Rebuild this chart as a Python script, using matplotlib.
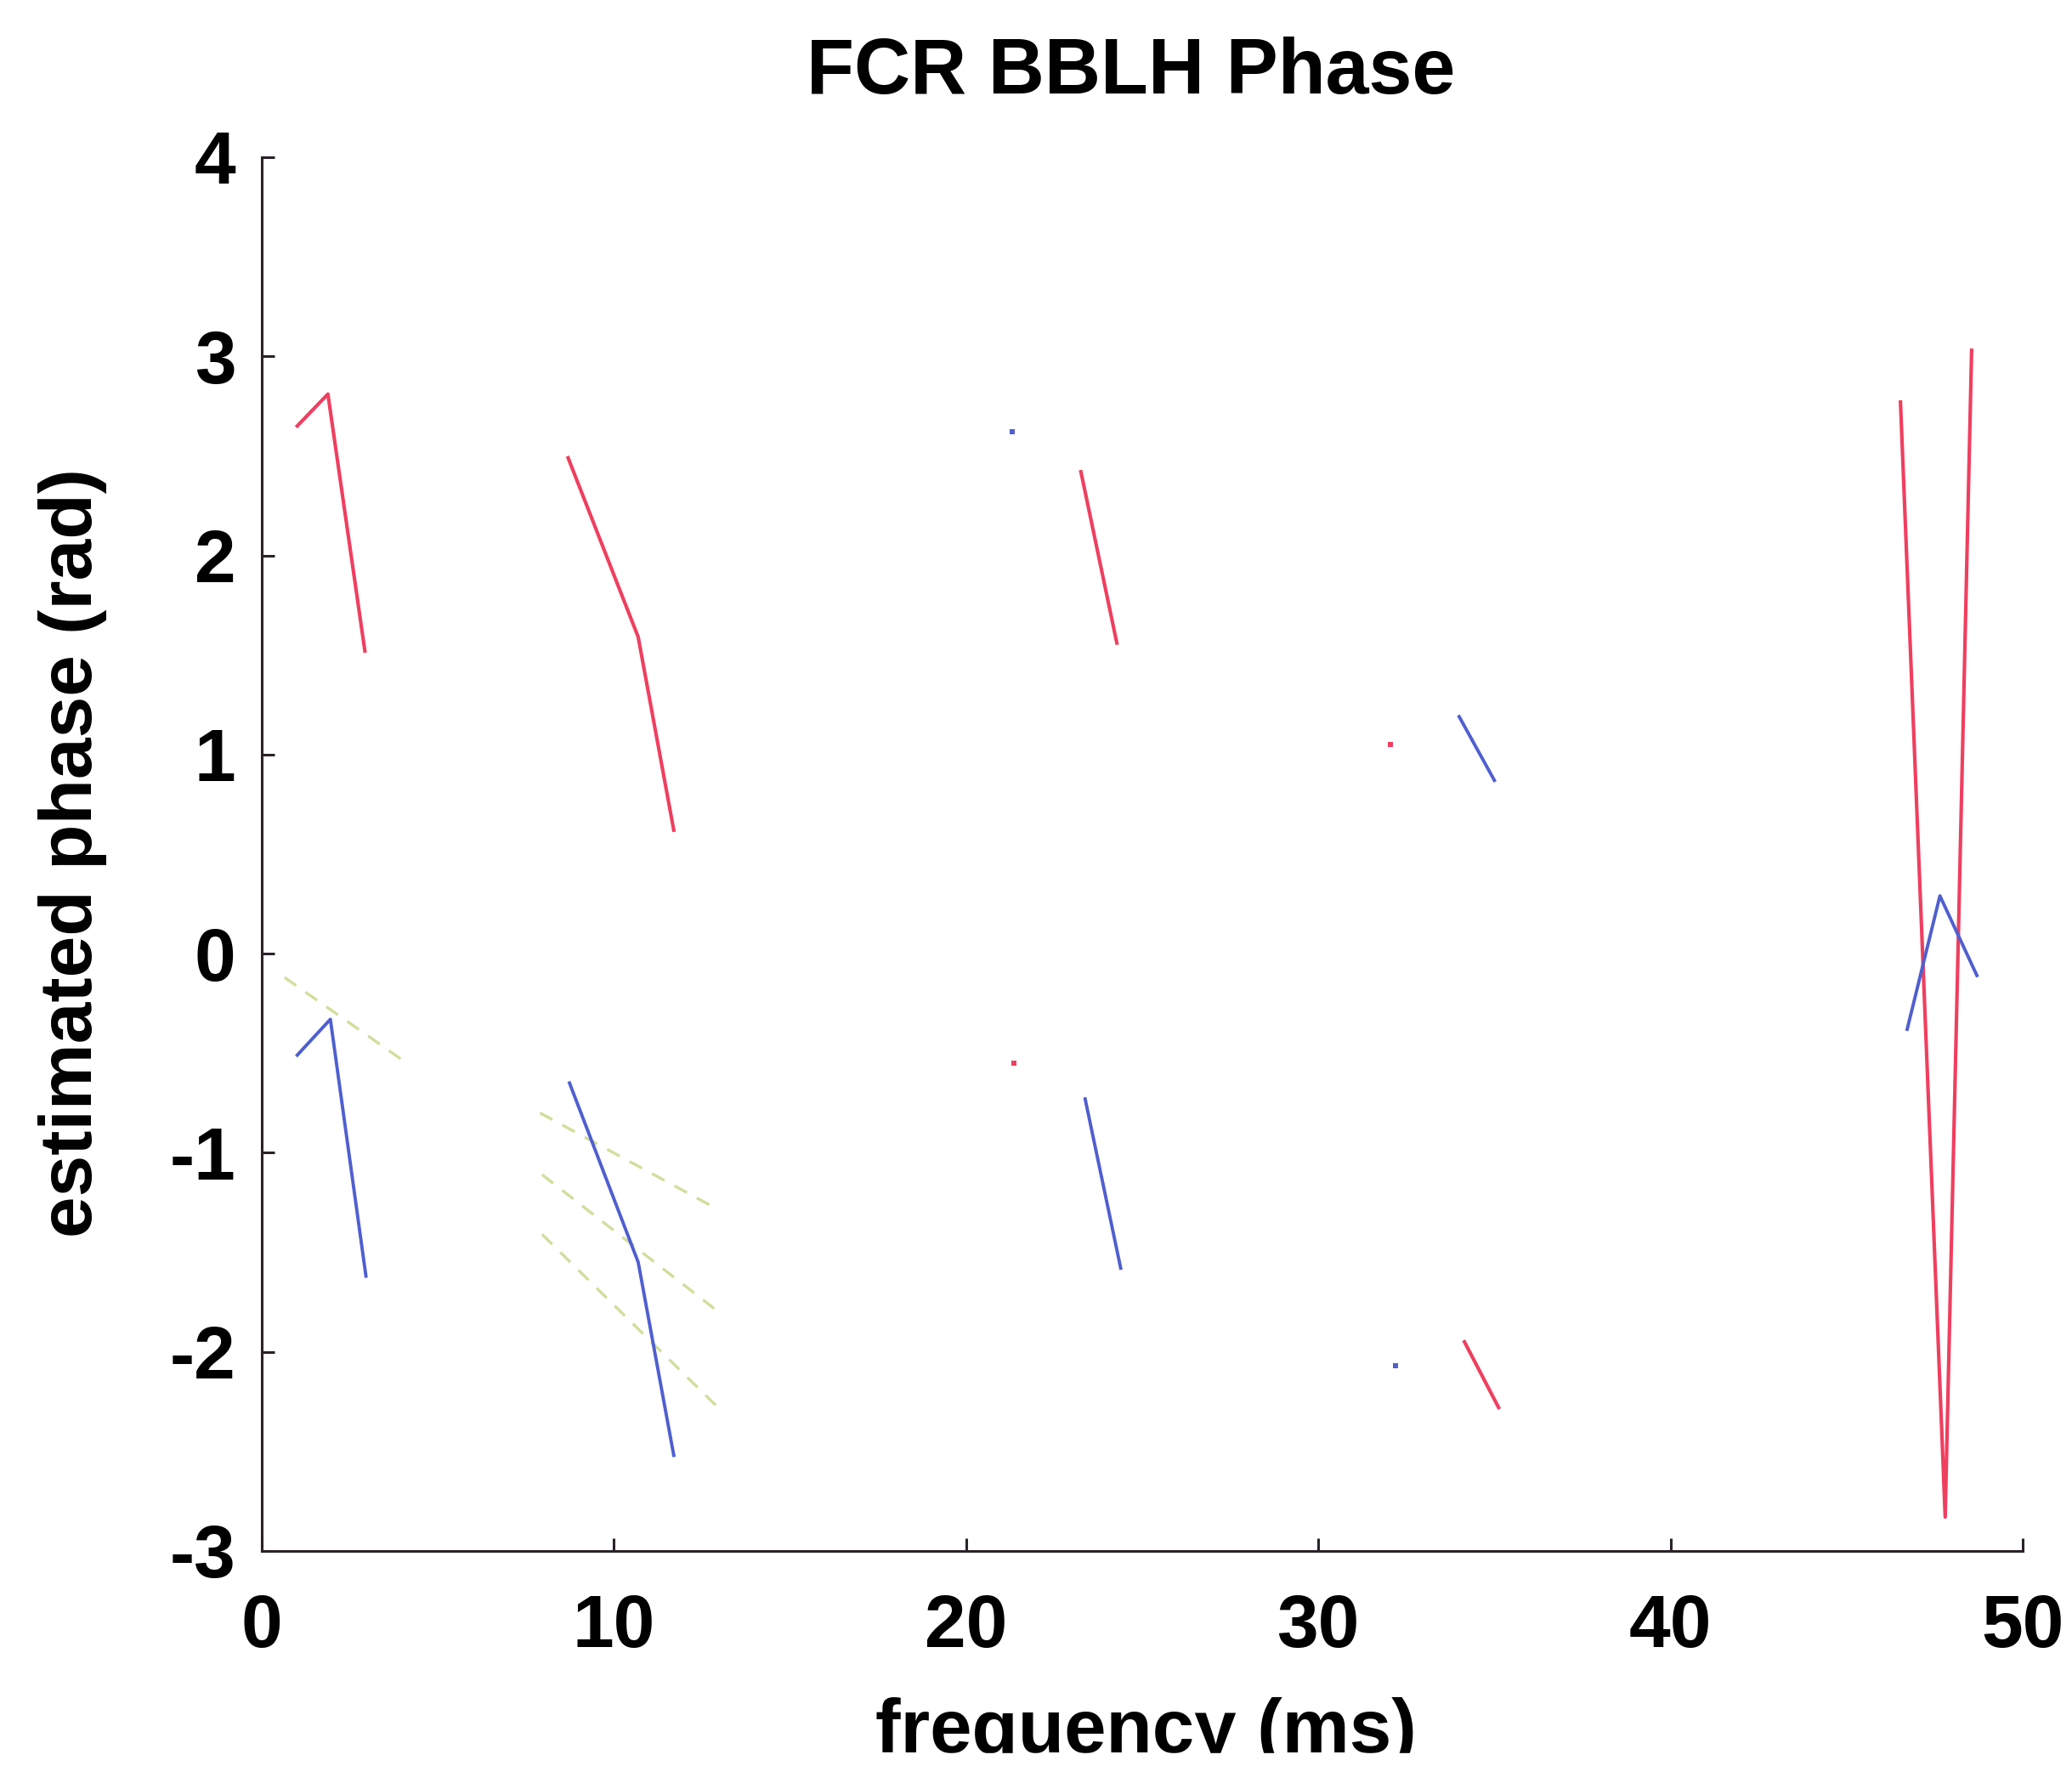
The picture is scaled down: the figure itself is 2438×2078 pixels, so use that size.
import numpy as np
import matplotlib
matplotlib.use('Agg')
from matplotlib import pyplot as plt
from matplotlib.patches import Rectangle

nan = np.nan

# red phase estimate (segments split by nan)
red_freq = [1.01, 1.88, 2.93, nan, 8.70, 10.69, 11.70, nan, 23.26, 24.28, nan,
            34.15, 35.12, nan, 46.53, 47.80, 48.55]
red_phase = [2.65, 2.81, 1.52, nan, 2.49, 1.59, 0.62, nan, 2.42, 1.56, nan,
             -1.95, -2.28, nan, 2.77, -2.83, 3.03]
red_dot_freq = [21.35, 32.05]
red_dot_phase = [-0.55, 1.05]

# blue phase estimate
blue_freq = [1.01, 1.95, 2.96, nan, 8.74, 10.69, 11.70, nan, 23.38, 24.39, nan,
             34.00, 35.00, nan, 46.72, 47.65, 48.70]
blue_phase = [-0.51, -0.33, -1.62, nan, -0.65, -1.55, -2.52, nan, -0.73, -1.58, nan,
              1.19, 0.87, nan, -0.38, 0.29, -0.11]
blue_dot_freq = [21.31, 32.20]
blue_dot_phase = [2.62, -2.07]

# faint green dashed lines
green_freq = [0.65, 4.20, nan, 7.90, 12.80, nan, 7.96, 12.90, nan, 7.96, 12.90]
green_phase = [-0.12, -0.56, nan, -0.80, -1.27, nan, -1.11, -1.79, nan, -1.41, -2.27]

x_ticks = [0, 10, 20, 30, 40, 50]
y_ticks = [-3, -2, -1, 0, 1, 2, 3, 4]

plt.rcParams['font.family'] = ['Liberation Sans', 'DejaVu Sans']
plt.rcParams['font.weight'] = 'bold'
plt.rcParams['axes.unicode_minus'] = False

fig = plt.figure(figsize=(24.38, 20.78), dpi=100)
ax = fig.add_axes([0.1263, 0.1218, 0.8499, 0.7892])

ax.plot(green_freq, green_phase, color='#cfdf9c', lw=2.4, linestyle=(0, (5, 4)))
ax.plot(red_freq, red_phase, color='#ef3f5f', lw=3.0)
ax.plot(blue_freq, blue_phase, color='#4f5fd0', lw=2.8)
ax.plot(red_dot_freq, red_dot_phase, 's', color='#ef3f5f', ms=4.5, mew=0)
ax.plot(blue_dot_freq, blue_dot_phase, 's', color='#4f5fd0', ms=4.5, mew=0)

ax.set_xlim(0, 50)
ax.set_ylim(-3, 4)
ax.set_xticks(x_ticks)
ax.set_yticks(y_ticks)
ax.spines['top'].set_visible(False)
ax.spines['right'].set_visible(False)
for s in ['left', 'bottom']:
    ax.spines[s].set_linewidth(2.2)
    ax.spines[s].set_color('#2a2228')
ax.tick_params(axis='both', direction='in', length=11, width=2.2, color='#2a2228',
               labelsize=63)
ax.tick_params(axis='y', pad=22)
ax.tick_params(axis='x', pad=36)
for lab in ax.get_xticklabels() + ax.get_yticklabels():
    lab.set_fontweight('bold')

fig.text(0.546, 0.947, 'FCR BBLH Phase', ha='center', va='baseline',
         fontsize=66, fontweight='bold')
fig.text(0.035, 0.517, 'estimated phase (rad)', ha='center', va='center',
         rotation=90, fontsize=63, fontweight='bold')
fig.text(0.553, 0.0075, 'frequency (ms)', ha='center', va='baseline',
         fontsize=64, fontweight='bold')
# scan is cut just under the axis label
fig.patches.append(Rectangle((0, 0), 1, 0.0072, transform=fig.transFigure,
                             color='white', zorder=10))

fig.savefig('out.png', dpi=100, facecolor='white')
